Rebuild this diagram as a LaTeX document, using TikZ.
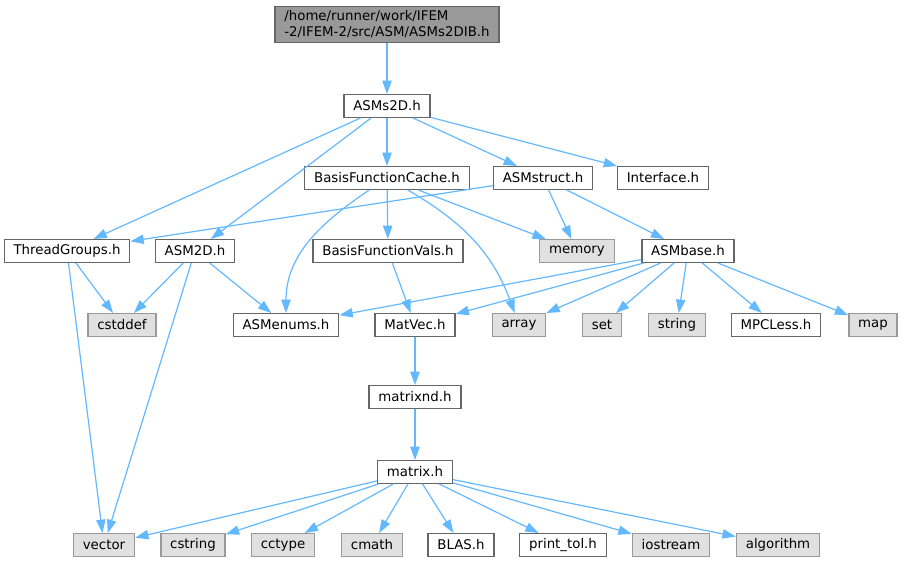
\documentclass[tikz,border=0pt]{standalone}
\usepackage{fontspec}
\setmainfont{DejaVu Sans}
\usetikzlibrary{arrows.meta}
\definecolor{edgeblue}{HTML}{63B8FF}
\definecolor{boxline}{HTML}{666666}
\definecolor{sysline}{HTML}{999999}
\definecolor{sysfill}{HTML}{E0E0E0}
\begin{document}
\begin{tikzpicture}[x=0.75pt,y=-0.75pt,
  hfile/.style={draw=boxline,fill=white,line width=1pt,
    font=\fontsize{10}{12}\selectfont,inner xsep=7pt,inner ysep=0pt,
    minimum height=17pt},
  sysfile/.style={hfile,draw=sysline,fill=sysfill},
  rootfile/.style={hfile,fill=sysline,align=left,inner ysep=3pt},
  dep/.style={draw=edgeblue,line width=0.9pt,
    -{Triangle[length=10pt,width=7pt]}}]
\useasboundingbox (0,0) rectangle (904,564);
\node[rootfile] (root) at (387,24.5) {/home/runner/work/IFEM\\-2/IFEM-2/src/ASM/ASMs2DIB.h};
\node[hfile] (asms2d) at (387,106) {ASMs2D.h};
\node[hfile] (bfcache) at (387,178) {BasisFunctionCache.h};
\node[hfile] (asmstruct) at (543,178) {ASMstruct.h};
\node[hfile] (iface) at (663,178) {Interface.h};
\node[hfile] (threadgroups) at (67,251) {ThreadGroups.h};
\node[hfile] (asm2d) at (195,251) {ASM2D.h};
\node[hfile] (bfvals) at (388,251) {BasisFunctionVals.h};
\node[sysfile] (memory) at (577,251) {memory};
\node[hfile] (asmbase) at (688,251) {ASMbase.h};
\node[sysfile] (cstddef) at (122,325) {cstddef};
\node[hfile] (asmenums) at (286,325) {ASMenums.h};
\node[hfile] (matvec) at (415,325) {MatVec.h};
\node[sysfile] (array) at (519,325) {array};
\node[sysfile] (set) at (602,325) {set};
\node[sysfile] (string) at (677,325) {string};
\node[hfile] (mpcless) at (776,325) {MPCLess.h};
\node[sysfile] (map) at (873,325) {map};
\node[hfile] (matrixnd) at (415,397) {matrixnd.h};
\node[hfile] (matrix) at (415,472) {matrix.h};
\node[sysfile] (vector) at (104,545) {vector};
\node[sysfile] (cstring) at (193,545) {cstring};
\node[sysfile] (cctype) at (283,545) {cctype};
\node[sysfile] (cmath) at (372,545) {cmath};
\node[hfile] (blas) at (461,545) {BLAS.h};
\node[hfile] (printtol) at (563,545) {print\_tol.h};
\node[sysfile] (iostream) at (671,545) {iostream};
\node[sysfile] (algorithm) at (778,545) {algorithm};
\draw[dep] (root) -- (asms2d);
\foreach \t in {threadgroups,asm2d,bfcache,asmstruct,iface}
  \draw[dep] (asms2d) -- (\t);
\draw[dep] (bfcache) to[out=-146,in=90] (asmenums);
\draw[dep] (bfcache) -- (bfvals);
\draw[dep] (bfcache) -- (memory);
\draw[dep] (bfcache) to[out=-30,in=110] (array);
\draw[dep] (asmstruct) -- (threadgroups);
\draw[dep] (asmstruct) -- (memory);
\draw[dep] (asmstruct) -- (asmbase);
\draw[dep] (threadgroups) -- (cstddef);
\draw[dep] (threadgroups) -- (vector);
\draw[dep] (asm2d) -- (cstddef);
\draw[dep] (asm2d) -- (asmenums);
\draw[dep] (asm2d) -- (vector);
\draw[dep] (bfvals) -- (matvec);
\foreach \t in {asmenums,matvec,array,set,string,mpcless,map}
  \draw[dep] (asmbase) -- (\t);
\draw[dep] (matvec) -- (matrixnd);
\draw[dep] (matrixnd) -- (matrix);
\foreach \t in {vector,cstring,cctype,cmath,blas,printtol,iostream,algorithm}
  \draw[dep] (matrix) -- (\t);
\end{tikzpicture}
\end{document}
